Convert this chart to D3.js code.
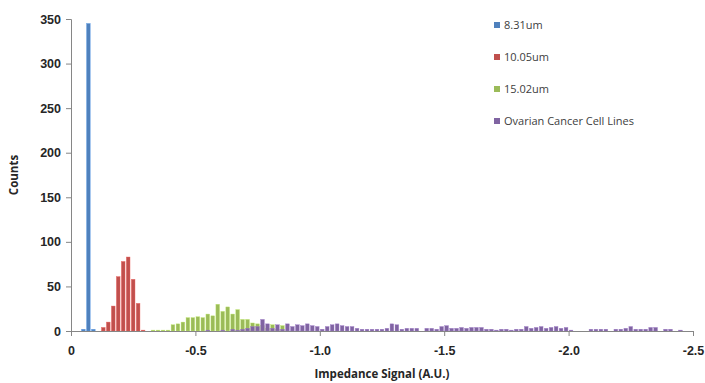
<!DOCTYPE html>
<html>
<head>
<meta charset="utf-8">
<script src="https://cdn.jsdelivr.net/npm/d3@7"></script>
<style>
  body { margin: 0; background: #fff; }
  svg { display: block; font-family: "Open Sans", sans-serif; }
</style>
</head>
<body>
<svg id="chart" width="705" height="383"></svg>
<script>
// histogram bins are 0.02 A.U. wide; each series lists counts from its first bin
const binWidth = 0.02;
const seriesNames = ["8.31um", "10.05um", "15.02um", "Ovarian Cancer Cell Lines"];
const seriesColors = ["#4F81BD", "#C0504D", "#9BBB59", "#8064A2"];
const seriesStart = [2, 6, 16, 27]; // index of first bin
const counts831 = [2, 345, 2];
const counts1005 = [4, 10, 28, 61, 78, 83, 58, 31, 1];
const counts1502 = [1, 1, 1, 1, 7, 8, 10, 15, 15, 16, 15, 19, 17, 30, 22, 27, 19, 24, 13, 13, 9, 8, 6, 3, 7, 2, 6];
const countsOvarian = [
  1, 0, 0, 1, 0, 2, 1, 2, 3, 5, 5, 13, 8, 3, 7, 2, 8, 5, 7, 6,
  8, 6, 5, 2, 5, 7, 8, 6, 5, 5, 3, 2, 2, 2, 2, 2, 3, 8, 7, 2,
  3, 3, 3, 0, 3, 3, 2, 5, 6, 3, 3, 4, 3, 4, 4, 4, 2, 2, 1, 2,
  2, 1, 2, 2, 5, 3, 4, 5, 3, 4, 5, 3, 4, 1, 0, 0, 0, 2, 2, 2,
  2, 0, 2, 2, 3, 5, 2, 2, 2, 4, 4, 0, 2, 2, 0, 1
];
const xTicks = [0, -0.5, -1.0, -1.5, -2.0, -2.5];
const yTicks = [0, 50, 100, 150, 200, 250, 300, 350];

const allCounts = [counts831, counts1005, counts1502, countsOvarian];

const svg = d3.select("#chart");
const margin = { top: 19, right: 12, bottom: 52, left: 71 };
const width = 705, height = 383;

const x = d3.scaleLinear().domain([0, -2.5]).range([margin.left, width - margin.right]);
const y = d3.scaleLinear().domain([0, 350]).range([height - margin.bottom, margin.top]);

const axisColor = "#868686";
const labelColor = "#262626";

// bars
allCounts.forEach((arr, s) => {
  const data = arr.map((c, k) => ({ bin: seriesStart[s] + k, c })).filter(d => d.c > 0);
  svg.append("g")
    .selectAll("rect")
    .data(data)
    .join("rect")
    .attr("x", d => x(-d.bin * binWidth) + 0.6)
    .attr("width", d => x(-(d.bin + 1) * binWidth) - x(-d.bin * binWidth) - 1.3)
    .attr("y", d => y(d.c))
    .attr("height", d => y(0) - y(d.c))
    .attr("fill", seriesColors[s])
    .attr("stroke", d3.color(seriesColors[s]).brighter(0.6))
    .attr("stroke-width", 0.4);
});

// y axis
const yAxis = svg.append("g")
  .attr("transform", `translate(${margin.left},0)`)
  .call(d3.axisLeft(y).tickValues(yTicks).tickSize(5).tickPadding(5));
yAxis.select(".domain").attr("stroke", axisColor);
yAxis.selectAll(".tick line").attr("stroke", axisColor);
yAxis.selectAll(".tick text")
  .attr("fill", labelColor)
  .style("font-size", "12.5px")
  .style("font-weight", "bold");

// x axis (plain hyphen for the minus sign, as in the original)
const xAxis = svg.append("g")
  .attr("transform", `translate(0,${y(0)})`)
  .call(d3.axisBottom(x).tickValues(xTicks).tickSize(5).tickPadding(10)
    .tickFormat(d => d === 0 ? "0" : d.toFixed(1)));
xAxis.select(".domain").attr("stroke", axisColor);
xAxis.selectAll(".tick line").attr("stroke", axisColor);
xAxis.selectAll(".tick text")
  .attr("fill", labelColor)
  .style("font-size", "12.5px")
  .style("font-weight", "bold");

// axis titles
svg.append("text")
  .attr("transform", `translate(18,${(margin.top + y(0)) / 2}) rotate(-90)`)
  .attr("text-anchor", "middle")
  .attr("fill", labelColor)
  .style("font-size", "11.5px")
  .style("font-weight", "bold")
  .text("Counts");

svg.append("text")
  .attr("x", 382)
  .attr("y", 378)
  .attr("text-anchor", "middle")
  .attr("fill", labelColor)
  .style("font-size", "11.5px")
  .style("font-weight", "bold")
  .text("Impedance Signal (A.U.)");

// legend
const legend = svg.append("g")
  .selectAll("g")
  .data(seriesNames)
  .join("g")
  .attr("transform", (d, i) => `translate(494,${25 + i * 32})`);
legend.append("rect")
  .attr("x", 0).attr("y", -3)
  .attr("width", 6).attr("height", 6)
  .attr("fill", (d, i) => seriesColors[i]);
legend.append("text")
  .attr("x", 10)
  .attr("dy", "0.35em")
  .attr("fill", "#404040")
  .style("font-size", "11px")
  .text(d => d);
</script>
</body>
</html>
